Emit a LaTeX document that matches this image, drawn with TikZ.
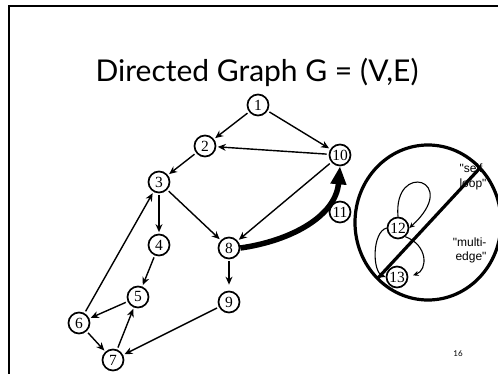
\documentclass[tikz,border=0pt]{standalone}
\usepackage{fontspec}
\setmainfont{Liberation Serif}
\newfontfamily\titlefont{Lato}
\newfontfamily\helv{Liberation Sans}
\usetikzlibrary{arrows.meta}
\begin{document}
\begin{tikzpicture}[x=1pt,y=-1pt,
  vtx/.style={circle,draw,line width=1.7pt,inner sep=0pt,minimum size=21pt,font=\fontsize{15.5}{15.5}\selectfont},
  edge/.style={line width=1.4pt,-{Stealth[length=8pt,width=7pt]},shorten <=2pt,shorten >=1.5pt},
  thin edge/.style={line width=1.1pt,-{Stealth[length=5.5pt,width=5pt]}},
  heavy/.style={line width=3.2pt}]
\useasboundingbox (0,0) rectangle (498,374);
\draw[line width=2.4pt] (9,376) -- (9,6) -- (500,6);
\node[font=\titlefont\fontsize{30}{30}\selectfont,anchor=base] (title) at (257,82) {Directed Graph G = (V,E)};
\node[vtx] (n1) at (258,105) {1};
\node[vtx] (n2) at (205,146) {2};
\node[vtx] (n3) at (159,182) {3};
\node[vtx] (n4) at (159,245) {4};
\node[vtx] (n5) at (138,297) {5};
\node[vtx] (n6) at (79,323) {6};
\node[vtx] (n7) at (113,360) {7};
\node[vtx] (n8) at (229,248) {8};
\node[vtx] (n9) at (229,302) {9};
\node[vtx] (n10) at (340,155) {10};
\node[vtx] (n11) at (340,212) {11};
\node[vtx] (n12) at (398,228) {12};
\node[vtx] (n13) at (397,277) {13};
\draw[edge] (n1) -- (n2);
\draw[edge] (n1) -- (n10);
\draw[edge] (n10) -- (n2);
\draw[edge] (n2) -- (n3);
\draw[edge] (n3) -- (n4);
\draw[edge] (n3) -- (n8);
\draw[edge] (n10) -- (n8);
\draw[edge,shorten >=6pt] (n8) -- (n9);
\draw[edge] (n4) -- (n5);
\draw[edge] (n5) -- (n6);
\draw[edge] (n6) -- (n7);
\draw[edge] (n7) -- (n5);
\draw[edge] (n6) -- (n3);
\draw[edge] (n9) -- (n7);
\draw[line width=5.5pt,-{Triangle[length=18pt,width=15pt]}] (n8.east) to[out=8,in=-95] (n10.south);
% self loop and multi-edge
\draw[thin edge] (n12.north) .. controls (393,160) and (462,180) .. (n12.east);
\draw[thin edge] (n12.west) .. controls (372,232) and (372,272) .. (n13.west);
\draw[thin edge,shorten >=5pt] (n12.-50) .. controls (428,245) and (428,270) .. (n13.east);
\node[font=\helv\fontsize{12}{15.5}\selectfont,align=left,anchor=west] (self) at (456,177) {"self\\loop"};
\node[font=\helv\fontsize{12}{14}\selectfont,align=right,anchor=east] (multi) at (490,250) {"multi-\\edge"};
\draw[heavy] (428,222.5) ellipse[x radius=73,y radius=77.5];
\coordinate (d1) at (378,278);
\coordinate (d2) at (480,168);
\draw[heavy] (d1) -- (d2);
\node[font=\titlefont\fontsize{8}{8}\selectfont] (page) at (458,354) {16};
\end{tikzpicture}
\end{document}
